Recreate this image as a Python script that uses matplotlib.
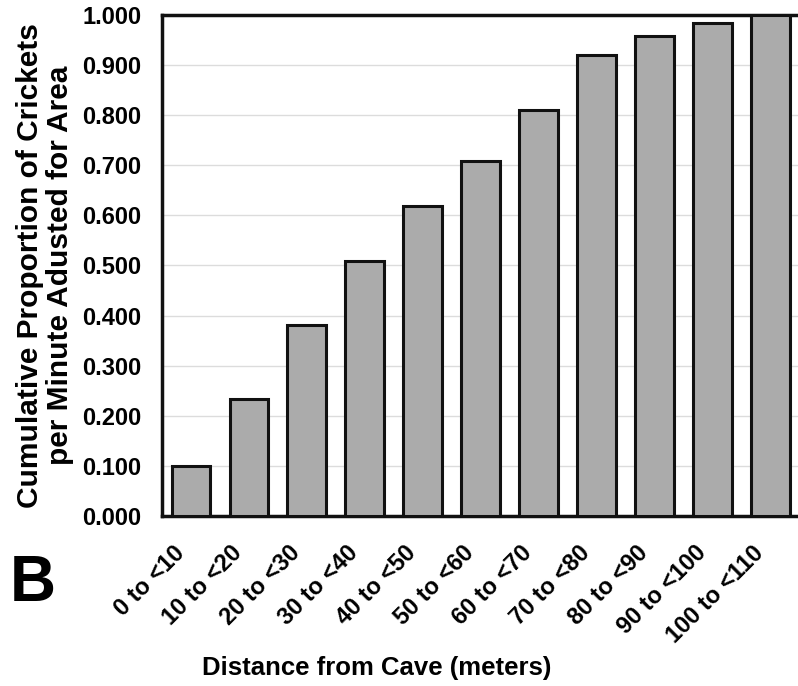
import numpy as np
import matplotlib
matplotlib.use("Agg")
import matplotlib.pyplot as plt
from matplotlib.transforms import ScaledTranslation

plt.rcParams['font.family'] = ['Liberation Sans', 'DejaVu Sans']
plt.rcParams['font.weight'] = 'bold'

# Data
categories = ['0 to <10', '10 to <20', '20 to <30', '30 to <40', '40 to <50',
              '50 to <60', '60 to <70', '70 to <80', '80 to <90', '90 to <100',
              '100 to <110']
proportion = [0.100, 0.233, 0.381, 0.509, 0.619, 0.708, 0.810, 0.920, 0.959, 0.985, 1.000]
y_ticks = [0.0, 0.1, 0.2, 0.3, 0.4, 0.5, 0.6, 0.7, 0.8, 0.9, 1.0]

fig = plt.figure(figsize=(7.98, 6.86), dpi=100)
ax = fig.add_axes([0.203, 0.248, 0.799, 0.730])

x = np.arange(len(categories))
ax.bar(x, proportion, width=0.67, color='#ababab', edgecolor='#111111',
       linewidth=2.2, zorder=3)

ax.set_xlim(-0.5, len(categories) - 0.5)
ax.set_ylim(0, 1.0)
ax.set_yticks(y_ticks)
ax.set_yticklabels(['%.3f' % v for v in y_ticks], fontsize=17, fontweight='bold')
ax.grid(axis='y', color='#dcdcdc', linewidth=1, zorder=0)

ax.set_xticks(x)
ax.set_xticklabels(categories, rotation=45, ha='right', va='center',
                   rotation_mode='anchor', fontsize=17, fontweight='bold')
ax.tick_params(axis='x', length=0, pad=24)
ax.tick_params(axis='y', length=0, pad=15)
shift = ScaledTranslation(-10 / 100, 0, fig.dpi_scale_trans)
for lab in ax.get_xticklabels():
    lab.set_transform(lab.get_transform() + shift)

for s in ax.spines.values():
    s.set_linewidth(2.5)
    s.set_color('#111111')

ax.set_ylabel('Cumulative Proportion of Crickets\nper Minute Adusted for Area',
              fontsize=21.5, fontweight='bold', linespacing=1.05)
ax.yaxis.set_label_coords(-0.1835, 0.5)
ax.yaxis.label.set_verticalalignment('center')

ax.set_xlabel('Distance from Cave (meters)', fontsize=18.5, fontweight='bold')
ax.xaxis.set_label_coords(0.337, -0.303)
ax.xaxis.label.set_verticalalignment('center')

fig.text(0.012, 0.149, 'B', fontsize=46, fontweight='bold', va='center', ha='left')

plt.savefig('out.png', dpi=100)
